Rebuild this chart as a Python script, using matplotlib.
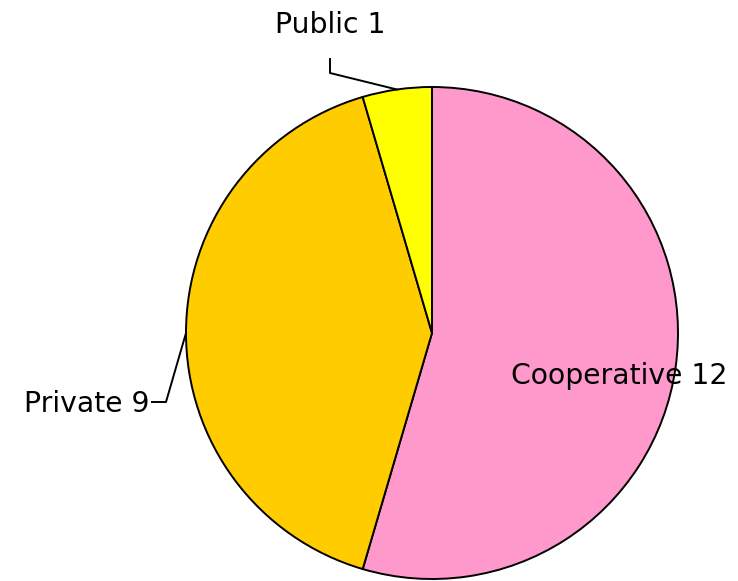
import numpy as np
import matplotlib.pyplot as plt

labels = ["Cooperative", "Private", "Public"]
values = [12, 9, 1]
colors = ["#FF99CC", "#FFCC00", "#FFFF00"]

W, H = 738, 581
fig = plt.figure(figsize=(W / 100, H / 100), dpi=100)
ax = fig.add_axes([0, 0, 1, 1])

cx, cy, r = 432, H - 333, 246
wedges, _ = ax.pie(values, colors=colors, startangle=90, counterclock=False,
                   center=(cx, cy), radius=r, frame=True,
                   wedgeprops=dict(edgecolor="black", linewidth=1.4))
ax.set_xlim(0, W)
ax.set_ylim(0, H)
ax.set_aspect("equal")
ax.axis("off")

fs = 20.3
font = "DejaVu Sans"


def edge_point(w):
    mid = np.deg2rad((w.theta1 + w.theta2) / 2)
    return cx + r * np.cos(mid), cy + r * np.sin(mid)


# Cooperative: label inside the slice
ax.text(619, H - 376, f"{labels[0]} {values[0]}", fontsize=fs, family=font,
        ha="center", va="center")

# Private: label on the left with leader line
px, py = edge_point(wedges[1])
ax.plot([152, 166, px], [H - 402, H - 402, py], color="black", lw=1.4)
ax.text(150, H - 404, f"{labels[1]} {values[1]}", fontsize=fs, family=font,
        ha="right", va="center")

# Public: label above with leader line
ux, uy = edge_point(wedges[2])
ax.plot([330, 330, ux], [H - 59, H - 73, uy], color="black", lw=1.4)
ax.text(330, H - 25, f"{labels[2]} {values[2]}", fontsize=fs, family=font,
        ha="center", va="center")

fig.savefig("out.png", dpi=100)
